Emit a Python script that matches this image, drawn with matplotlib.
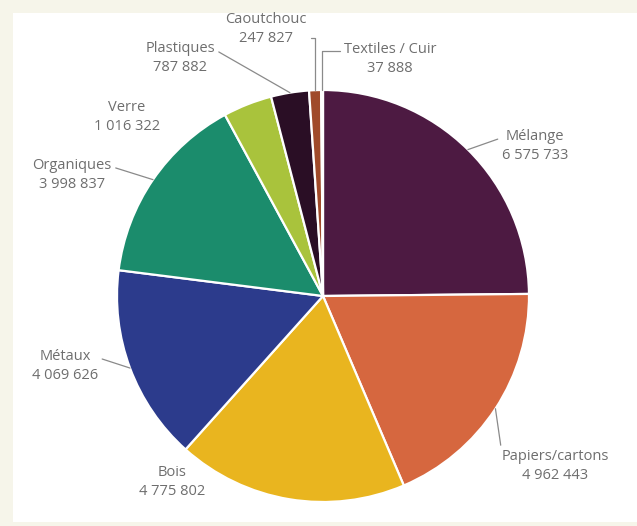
import numpy as np
import matplotlib.pyplot as plt
from matplotlib.patches import Rectangle

# values
categories = ["Mélange", "Papiers/cartons", "Bois", "Métaux", "Organiques",
              "Verre", "Plastiques", "Caoutchouc", "Textiles / Cuir"]
values = [6575733, 4962443, 4775802, 4069626, 3998837, 1016322, 787882, 247827, 37888]
value_labels = ["6 575 733", "4 962 443", "4 775 802", "4 069 626", "3 998 837",
                "1 016 322", "787 882", "247 827", "37 888"]
colors = ["#4d1a42", "#d6673f", "#e9b51f", "#2c3b8c", "#1b8c6c",
          "#a9c33c", "#2a0e25", "#a04a2a", "#d8bb8f"]

W, H = 637, 526
fig = plt.figure(figsize=(W / 100, H / 100), dpi=100)
fig.patch.set_facecolor("#f6f5ea")
ax = fig.add_axes([0, 0, 1, 1])
ax.add_patch(Rectangle((13, 4), W - 13, H - 17, facecolor="white", edgecolor="none", zorder=0))

cx, cy, r = 323, 230, 206
wedges, _ = ax.pie(values, colors=colors, startangle=90, counterclock=False,
                   center=(cx, cy), radius=r,
                   wedgeprops=dict(edgecolor="white", linewidth=1.6))
ax.set_xlim(0, W)
ax.set_ylim(0, H)
ax.set_aspect("equal")
ax.axis("off")

# label placement (text centre), whether a leader line is drawn, and its style
layout = {
    "Mélange": ((535, 380), True, (0, 0.75), "arc3"),
    "Papiers/cartons": ((555, 60), True, (0.0, 1.0), "arc3"),
    "Bois": ((172, 44), False, None, None),
    "Métaux": ((65, 160), True, (1, 0.75), "arc3"),
    "Organiques": ((72, 351), True, (1, 0.75), "arc3"),
    "Verre": ((127, 409), False, None, None),
    "Plastiques": ((180, 468), True, (1, 0.75), "arc3"),
    "Caoutchouc": ((266, 497), True, (1, 0.22), "angle,angleA=0,angleB=90,rad=0"),
    "Textiles / Cuir": ((390, 467), True, (0, 0.75), "angle,angleA=180,angleB=90,rad=0"),
}

font = dict(fontsize=10.5, color="#6e6e6e", family="Open Sans", linespacing=1.3)

for w, cat, vlab in zip(wedges, categories, value_labels):
    mid = np.deg2rad((w.theta1 + w.theta2) / 2)
    edge = (cx + r * np.cos(mid), cy + r * np.sin(mid))
    pos, leader, relpos, style = layout[cat]
    txt = f"{cat}\n{vlab}"
    if leader:
        ax.annotate(txt, xy=edge, xytext=pos, ha="center", va="center", **font,
                    arrowprops=dict(arrowstyle="-", color="#8a8a8a", lw=0.9,
                                    relpos=relpos, connectionstyle=style,
                                    shrinkA=1, shrinkB=0))
    else:
        ax.text(pos[0], pos[1], txt, ha="center", va="center", **font)

fig.savefig("out.png", dpi=100, facecolor=fig.get_facecolor())
